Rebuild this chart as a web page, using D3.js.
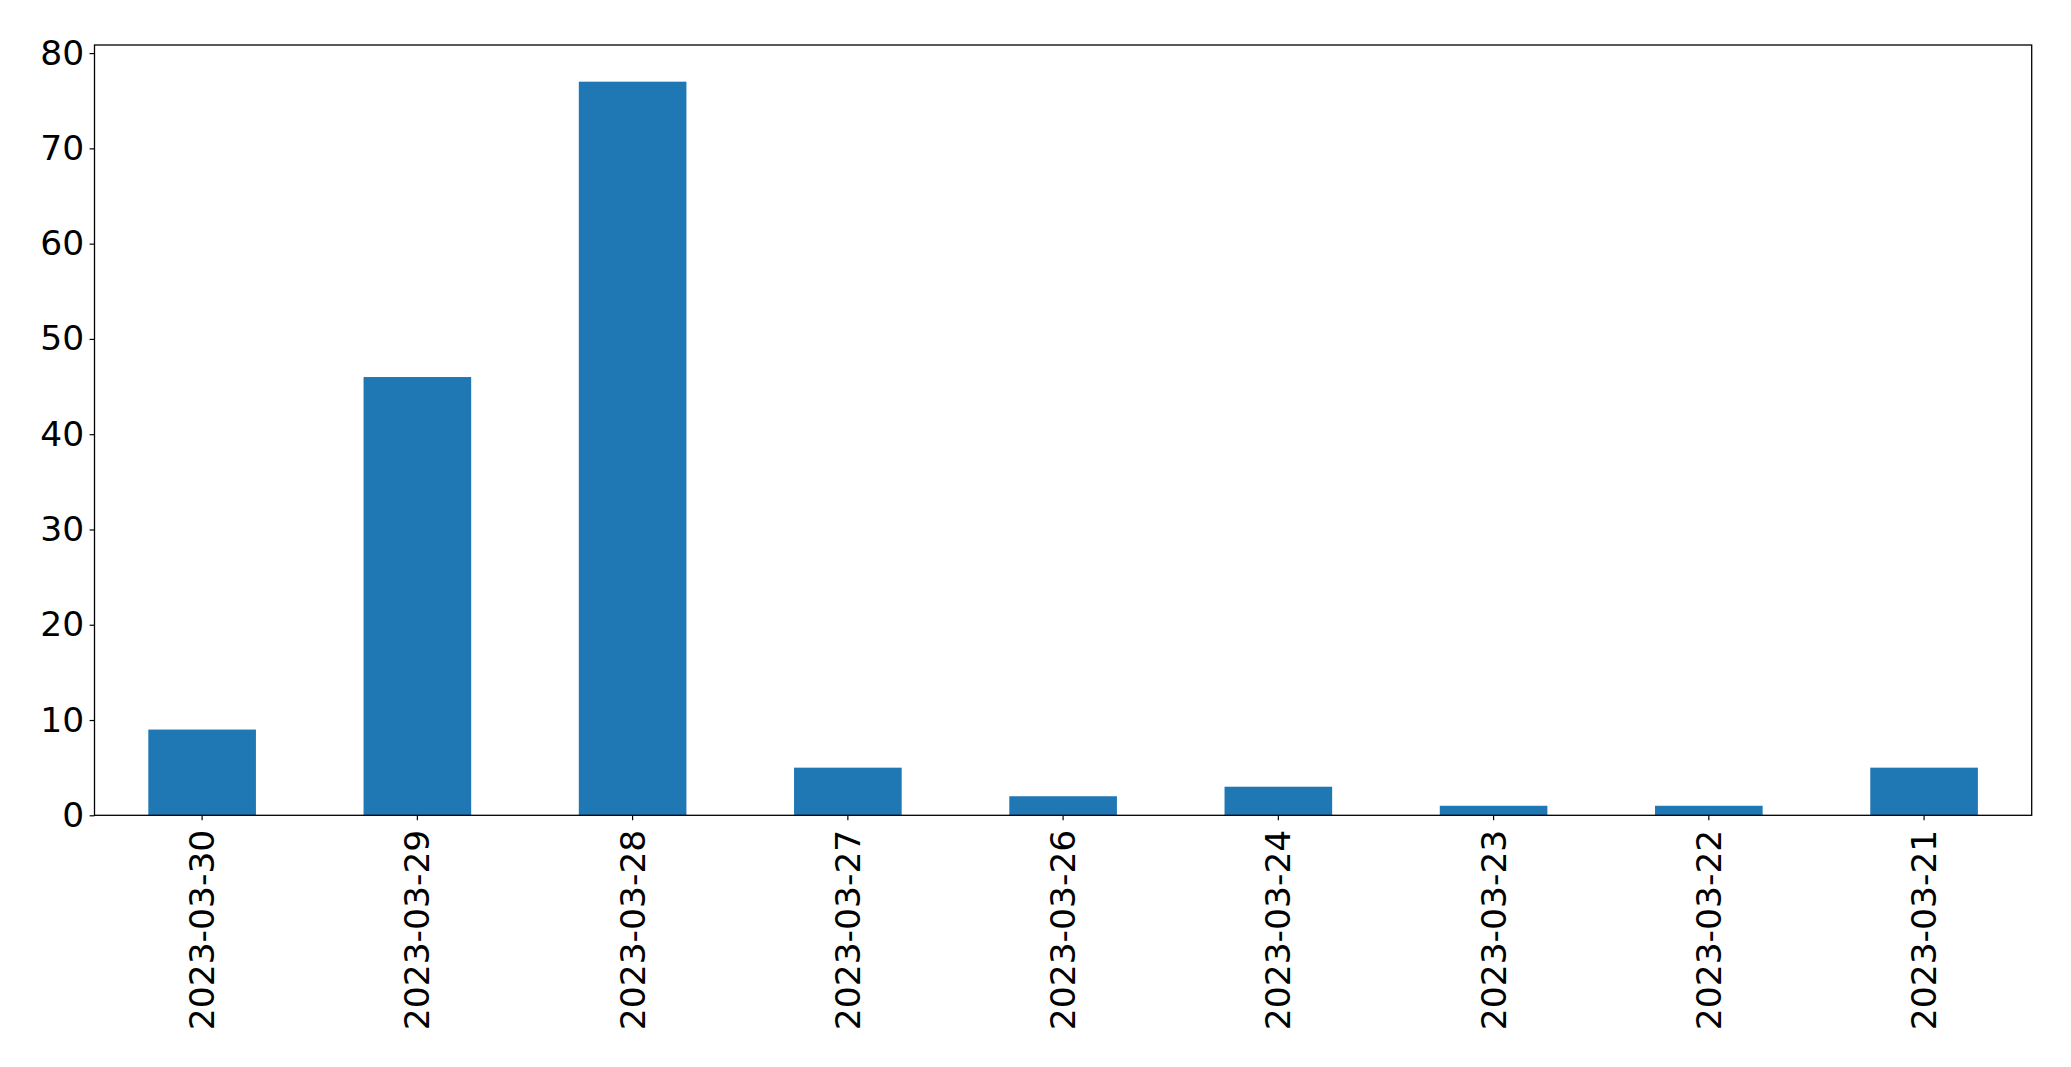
<!DOCTYPE html>
<html>
<head>
<meta charset="utf-8">
<script src="https://cdn.jsdelivr.net/npm/d3@7"></script>
<style>
  html, body { margin: 0; padding: 0; background: #fff; }
  svg { display: block; }
  text { font-family: "DejaVu Sans", sans-serif; }
</style>
</head>
<body>
<svg id="chart" width="2071" height="1067"></svg>
<script>
const categories = ["2023-03-30", "2023-03-29", "2023-03-28", "2023-03-27", "2023-03-26", "2023-03-24", "2023-03-23", "2023-03-22", "2023-03-21"];
const values = [9, 46, 77, 5, 2, 3, 1, 1, 5];
const yTicks = [0, 10, 20, 30, 40, 50, 60, 70, 80];

const svg = d3.select("#chart");
const W = 2071, H = 1067;
const margin = { left: 94.5, right: W - 2031.7, top: 45, bottom: H - 815.3 };
const x0 = margin.left, x1 = W - margin.right, y0 = margin.top, y1 = H - margin.bottom;

const x = d3.scaleBand().domain(categories).range([x0, x1]).paddingInner(0.5).paddingOuter(0.25);
const y = d3.scaleLinear().domain([0, d3.max(values) * 1.05]).range([y1, y0]);

svg.append("g").selectAll("rect").data(values).join("rect")
  .attr("x", (d, i) => x(categories[i]))
  .attr("width", x.bandwidth())
  .attr("y", d => y(d))
  .attr("height", d => y1 - y(d))
  .attr("fill", "#1f77b4");

const fontSize = 34.5;
const tickLen = 4.9, pad = 5.5;

// y axis
const yAxis = svg.append("g").attr("transform", `translate(${x0},0)`)
  .call(d3.axisLeft(y).tickValues(yTicks).tickSize(tickLen).tickPadding(pad).tickFormat(d3.format("d")));
yAxis.attr("font-size", fontSize).attr("font-family", "'DejaVu Sans', sans-serif");
yAxis.select(".domain").remove();
yAxis.selectAll("line").attr("stroke", "#000").attr("stroke-width", 1.2);
yAxis.selectAll("text").attr("font-size", fontSize).attr("fill", "#000");

// x axis
const xAxis = svg.append("g").attr("transform", `translate(0,${y1})`)
  .call(d3.axisBottom(x).tickSize(tickLen).tickPadding(pad));
xAxis.attr("font-size", fontSize).attr("font-family", "'DejaVu Sans', sans-serif");
xAxis.select(".domain").remove();
xAxis.selectAll("line").attr("stroke", "#000").attr("stroke-width", 1.2);
xAxis.selectAll("text")
  .attr("font-size", fontSize).attr("fill", "#000")
  .attr("text-anchor", "end")
  .attr("transform", `translate(0,${tickLen + 9.5}) rotate(-90)`)
  .attr("x", 0).attr("y", 0).attr("dy", "0.35em");

// frame
svg.append("rect")
  .attr("x", x0).attr("y", y0)
  .attr("width", x1 - x0).attr("height", y1 - y0)
  .attr("fill", "none").attr("stroke", "#000").attr("stroke-width", 1.3);
</script>
</body>
</html>
